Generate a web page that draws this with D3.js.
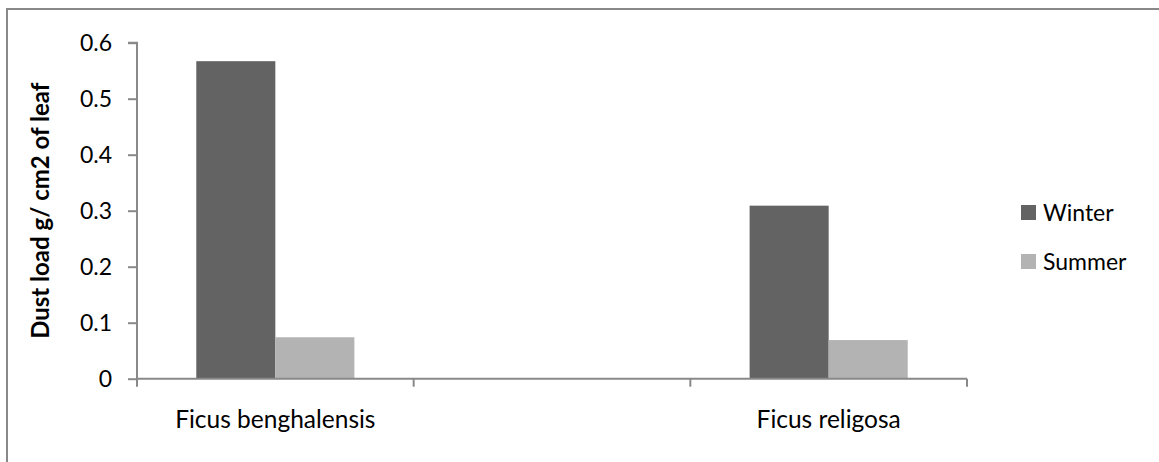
<!DOCTYPE html>
<html>
<head>
<meta charset="utf-8">
<script src="https://cdn.jsdelivr.net/npm/d3@7"></script>
<style>
  html, body { margin: 0; padding: 0; background: #fff; }
  svg { display: block; }
  text { font-family: Lato, "Open Sans", sans-serif; fill: #000; }
</style>
</head>
<body>
<svg id="chart" width="1159" height="462"></svg>
<script>
// Dust load per unit leaf area for two Ficus species
// (the middle category slot is an empty, unlabelled column)
const categories = ["Ficus benghalensis", "", "Ficus religosa"];
const seriesNames = ["Winter", "Summer"];
const winterValues = [0.567, null, 0.309];
const summerValues = [0.074, null, 0.069];
const yTicks = [0, 0.1, 0.2, 0.3, 0.4, 0.5, 0.6];
const yTitle = "Dust load g/ cm2 of leaf";

const colors = { Winter: "#636363", Summer: "#b3b3b3" };
const axisColor = "#898989";
const tickFont = 23;
const labelFont = 24.5;

const svg = d3.select("#chart");

// outer chart frame (right and bottom edges fall outside the canvas)
svg.append("rect")
  .attr("x", 7).attr("y", 9)
  .attr("width", 1200).attr("height", 500)
  .attr("fill", "none")
  .attr("stroke", "#888")
  .attr("stroke-width", 2);

const plot = { left: 137, right: 967, top: 42.7, bottom: 378.7 };

const x0 = d3.scaleBand()
  .domain(d3.range(categories.length))
  .range([plot.left, plot.right])
  .padding(0);

const x1 = d3.scaleBand()
  .domain(seriesNames)
  .range([0, x0.bandwidth()])
  .paddingInner(0)
  .paddingOuter(0.75);

const y = d3.scaleLinear()
  .domain([0, 0.6])
  .range([plot.bottom, plot.top]);

const rows = categories.map((c, i) => ({
  index: i,
  category: c,
  values: [
    { key: "Winter", value: winterValues[i] },
    { key: "Summer", value: summerValues[i] }
  ].filter(v => v.value != null)
}));

// bars
const groups = svg.append("g")
  .selectAll("g")
  .data(rows)
  .join("g")
  .attr("transform", d => `translate(${x0(d.index)},0)`);

groups.selectAll("rect")
  .data(d => d.values)
  .join("rect")
  .attr("x", d => x1(d.key))
  .attr("y", d => y(d.value))
  .attr("width", x1.bandwidth())
  .attr("height", d => y(0) - y(d.value))
  .attr("fill", d => colors[d.key]);

// y axis
const yAxis = svg.append("g")
  .attr("transform", `translate(${plot.left},0)`)
  .call(d3.axisLeft(y)
    .tickValues(yTicks)
    .tickSize(9)
    .tickPadding(16)
    .tickFormat(d => d === 0 ? "0" : d3.format(".1f")(d)));

yAxis.select(".domain").attr("stroke", axisColor).attr("stroke-width", 2)
  .attr("d", `M-9,${plot.top}H0V${plot.bottom}`);
yAxis.selectAll(".tick line").attr("stroke", axisColor).attr("stroke-width", 2);
yAxis.selectAll(".tick text")
  .style("font-family", "Lato, sans-serif")
  .style("font-size", tickFont + "px")
  .attr("fill", "#000");

// x axis: ticks on category boundaries
const boundaries = [plot.left].concat(rows.map(r => x0(r.index) + x0.bandwidth()));
const xAxisG = svg.append("g");
xAxisG.append("line")
  .attr("x1", plot.left).attr("x2", plot.right)
  .attr("y1", y(0)).attr("y2", y(0))
  .attr("stroke", axisColor).attr("stroke-width", 2);
xAxisG.selectAll("line.tick")
  .data(boundaries)
  .join("line")
  .attr("class", "tick")
  .attr("x1", d => d).attr("x2", d => d)
  .attr("y1", y(0)).attr("y2", y(0) + 8)
  .attr("stroke", axisColor).attr("stroke-width", 2);

xAxisG.selectAll("text")
  .data(rows)
  .join("text")
  .attr("x", d => x0(d.index) + x0.bandwidth() / 2)
  .attr("y", 428)
  .attr("text-anchor", "middle")
  .style("font-size", labelFont + "px")
  .text(d => d.category);

// y axis title
svg.append("text")
  .attr("transform", `translate(49,${(plot.top + plot.bottom) / 2}) rotate(-90)`)
  .attr("text-anchor", "middle")
  .style("font-size", "24px")
  .style("font-weight", "bold")
  .text(yTitle);

// legend
const legend = svg.append("g")
  .selectAll("g")
  .data(seriesNames)
  .join("g")
  .attr("transform", (d, i) => `translate(1021,${205 + i * 49})`);

legend.append("rect")
  .attr("width", 15).attr("height", 15)
  .attr("fill", d => colors[d]);

legend.append("text")
  .attr("x", 22)
  .attr("y", 15.5)
  .style("font-size", tickFont + "px")
  .text(d => d);
</script>
</body>
</html>
